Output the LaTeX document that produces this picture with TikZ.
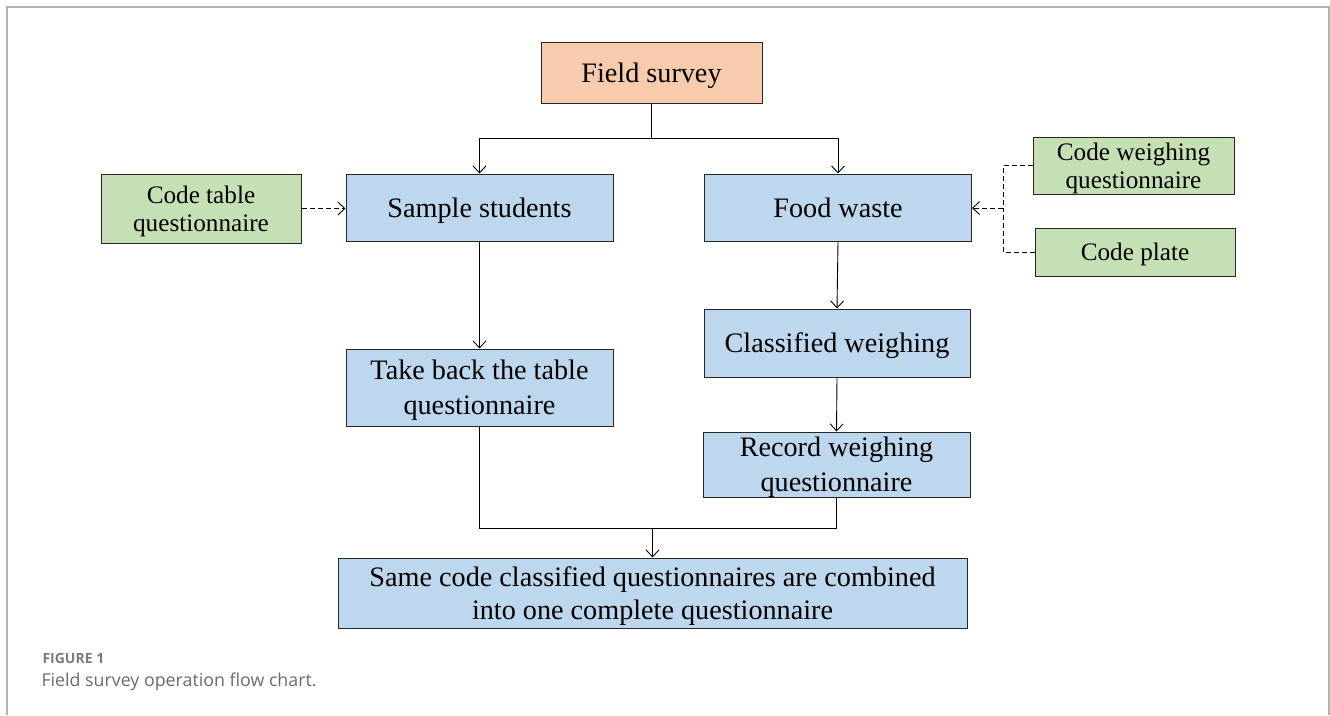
\documentclass[tikz,border=0pt]{standalone}
\usepackage{fontspec}
\setmainfont{Liberation Serif}
\newfontfamily\capfont{Open Sans}
\usetikzlibrary{arrows.meta}
\definecolor{fieldorange}{HTML}{F8CBAD}
\definecolor{stepblue}{HTML}{BDD7EE}
\definecolor{codegreen}{HTML}{C5E0B4}

\begin{document}
\begin{tikzpicture}[x=1pt, y=-1pt,
  font=\fontsize{28.2}{35}\selectfont,
  n/.style={draw=black!85, line width=1pt, align=center, inner sep=0pt,
    text depth=-3pt, minimum width=267pt, fill=stepblue},
  g/.style={n, minimum width=200pt, fill=codegreen, font=\fontsize{25.2}{28}\selectfont},
  d/.style={-{Straight Barb[length=7pt,width=13pt]}, line width=0.9pt},
  dd/.style={d, dash pattern=on 5pt off 3pt}
]
\useasboundingbox (0,0) rectangle (1330,715);
\draw[black!30, line width=2pt] (6.5,715) -- (6.5,7) -- (1328.5,7) -- (1328.5,715);

\node[n, fill=fieldorange, minimum width=221pt, minimum height=61pt] (fs) at (651.5,72.5) {Field survey};
\node[n, minimum height=67pt] (ss) at (479.5,207.5) {Sample students};
\node[n, minimum height=67pt] (fw) at (838,207.5) {Food waste};
\node[g, minimum height=69pt] (ct) at (201,208.5) {Code table\\questionnaire};
\node[g, minimum width=201pt, minimum height=57pt] (cw) at (1133.5,165.5) {Code weighing\\questionnaire};
\node[g, minimum height=48pt] (cp) at (1135,252) {Code plate};
\node[n, minimum height=77pt] (tb) at (479.5,387.5) {Take back the table\\questionnaire};
\node[n, minimum width=266pt, minimum height=68pt] (cl) at (837,343) {Classified weighing};
\node[n, minimum height=65pt] (rw) at (836.5,464.5) {Record weighing\\questionnaire};
\node[n, minimum width=629pt, minimum height=70pt, font=\fontsize{28.2}{33}\selectfont] (all) at (652.5,593)
  {Same code classified questionnaires are combined\\into one complete questionnaire};

\coordinate (top) at (651.5,138);
\draw[line width=0.9pt] (fs.south) -- (top);
\draw[d] (top) -| (ss.north);
\draw[d] (top) -| (fw.north);
\draw[d] (ss.south) -- (tb.north);
\draw[d] (fw.south) -- (cl.north);
\draw[d] (cl.south) -- (rw.north);
\coordinate (join) at (652.5,528);
\draw[line width=0.9pt] (tb.south) |- (join);
\draw[line width=0.9pt] (rw.south) |- (join);
\draw[d] (join) -- (all.north);

\draw[dd] (ct.east) -- (ct.east -| ss.west);
\coordinate (bus) at (1003,208);
\draw[line width=0.9pt, dash pattern=on 5pt off 3pt] (cw.west) -| (bus);
\draw[line width=0.9pt, dash pattern=on 5pt off 3pt] (cp.west) -| (bus);
\draw[dd] (bus) -- (bus -| fw.east);

\node[anchor=base west, text=black!52, font=\capfont\bfseries\fontsize{14}{16}\selectfont] (fig) at (39,663) {FIGURE 1};
\node[anchor=base west, text=black!58, font=\capfont\fontsize{17.8}{20}\selectfont] (cap) at (38,686) {Field survey operation flow chart.};
\end{tikzpicture}
\end{document}
